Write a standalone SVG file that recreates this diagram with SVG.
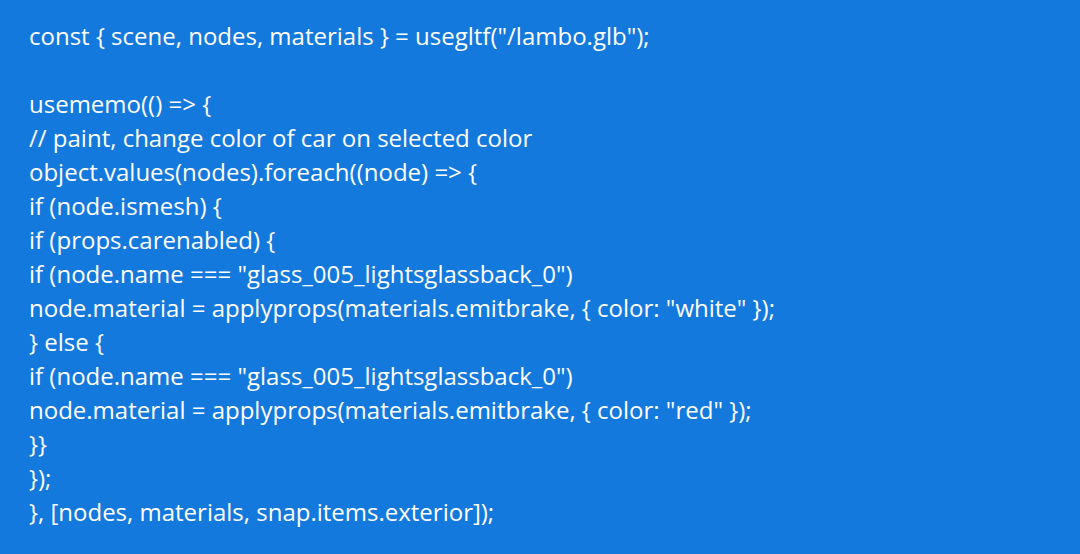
<svg xmlns="http://www.w3.org/2000/svg" width="1080" height="554" viewBox="0 0 1080 554">
<style>
text{font-family:"Open Sans","Noto Sans",sans-serif;font-size:24px;fill:#ffffff}
</style>
<rect width="1080" height="554" fill="#1379dd"/>
<g id="code">
<text x="29" y="45">const { scene, nodes, materials } = usegltf("/lambo.glb");</text>
<text x="29" y="113">usememo(() =&gt; {</text>
<text x="29" y="147">// paint, change color of car on selected color</text>
<text x="29" y="181">object.values(nodes).foreach((node) =&gt; {</text>
<text x="29" y="215">if (node.ismesh) {</text>
<text x="29" y="249">if (props.carenabled) {</text>
<text x="29" y="283">if (node.name === "glass_005_lightsglassback_0")</text>
<text x="29" y="317">node.material = applyprops(materials.emitbrake, { color: "white" });</text>
<text x="29" y="351">} else {</text>
<text x="29" y="385">if (node.name === "glass_005_lightsglassback_0")</text>
<text x="29" y="419">node.material = applyprops(materials.emitbrake, { color: "red" });</text>
<text x="29" y="453">}}</text>
<text x="29" y="487">});</text>
<text x="29" y="521">}, [nodes, materials, snap.items.exterior]);</text>
</g>
</svg>
